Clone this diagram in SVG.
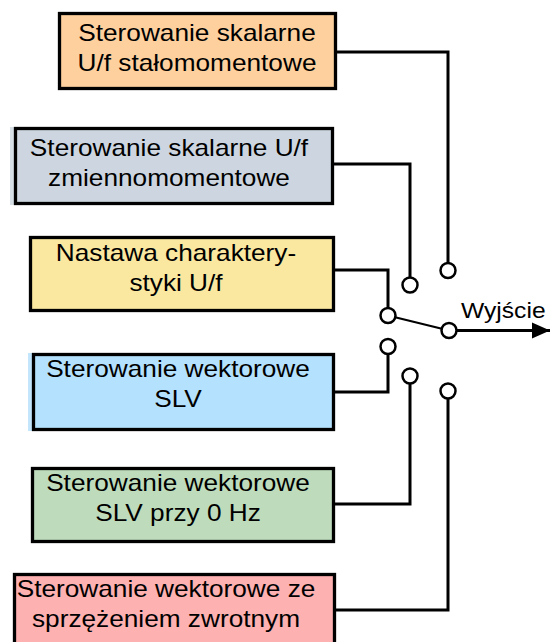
<svg xmlns="http://www.w3.org/2000/svg" width="550" height="642" viewBox="0 0 550 642">
<style>
.box{stroke:#000;stroke-width:3.3}
.t{font-family:"Liberation Sans",Arial,sans-serif;font-size:23px;fill:#000;text-anchor:middle}
.w{font-family:"Liberation Sans",Arial,sans-serif;font-size:22px;fill:#000}
.con{fill:none;stroke:#000;stroke-width:3}
.c{fill:#fff;stroke:#000;stroke-width:2.5}
</style>
<defs>
<marker id="arr" markerUnits="userSpaceOnUse" markerWidth="20" markerHeight="18" refX="18" refY="9" orient="auto">
<path d="M0,1 L18,9 L0,17 Z" fill="#000"/>
</marker>
</defs>
<rect width="550" height="642" fill="#fff"/>
<g id="n1">
<rect class="box" x="59.5" y="13.5" width="276" height="75" fill="#FDD09E"/>
<text class="t" transform="translate(197,0) scale(1.14,1)" x="0" y="41.5">Sterowanie skalarne</text>
<text class="t" transform="translate(197,0) scale(1.14,1)" x="0" y="71.5">U/f stałomomentowe</text>
</g>
<g id="n2">
<rect x="10" y="127" width="10" height="78" fill="#D6DEE6"/>
<rect class="box" x="15.5" y="128.5" width="317" height="75" fill="#CDD6E0"/>
<text class="t" transform="translate(169,0) scale(1.14,1)" x="0" y="156">Sterowanie skalarne U/f</text>
<text class="t" transform="translate(169,0) scale(1.14,1)" x="0" y="186">zmiennomomentowe</text>
</g>
<g id="n3">
<rect class="box" x="30.5" y="237.5" width="303" height="73" fill="#FAE8A0"/>
<text class="t" transform="translate(176,0) scale(1.14,1)" x="0" y="261.5">Nastawa charaktery-</text>
<text class="t" transform="translate(176,0) scale(1.14,1)" x="0" y="291.5">styki U/f</text>
</g>
<g id="n4">
<rect x="28" y="353" width="10" height="78" fill="#C4E6FD"/>
<rect class="box" x="33.5" y="354.5" width="300" height="75" fill="#B4E1FD"/>
<text class="t" transform="translate(178,0) scale(1.14,1)" x="0" y="377">Sterowanie wektorowe</text>
<text class="t" transform="translate(178,0) scale(1.14,1)" x="0" y="407">SLV</text>
</g>
<g id="n5">
<rect class="box" x="32.5" y="468.5" width="301" height="73" fill="#BEDCBC"/>
<text class="t" transform="translate(178,0) scale(1.14,1)" x="0" y="491.5">Sterowanie wektorowe</text>
<text class="t" transform="translate(178,0) scale(1.14,1)" x="0" y="521.5">SLV przy 0 Hz</text>
</g>
<g id="n6">
<rect class="box" x="14.5" y="574.5" width="320" height="80" fill="#FDB1B0"/>
<text class="t" transform="translate(166,0) scale(1.14,1)" x="0" y="597">Sterowanie wektorowe ze</text>
<text class="t" transform="translate(166,0) scale(1.14,1)" x="0" y="627">sprzężeniem zwrotnym</text>
</g>
<g id="connectors">
<path class="con" d="M336,52 H448 V263"/>
<path class="con" d="M333,164 H410 V277.5"/>
<path class="con" d="M334,270 H388 V308"/>
<path class="con" d="M334,392 H388 V354"/>
<path class="con" d="M334,504 H410 V383.5"/>
<path class="con" d="M335,610 H448 V398.5"/>
<line x1="388" y1="315.5" x2="449" y2="330.5" stroke="#000" stroke-width="2.3"/>
<line x1="456" y1="330.5" x2="550" y2="330.5" stroke="#000" stroke-width="3" marker-end="url(#arr)"/>
</g>
<g id="switch">
<circle class="c" cx="448" cy="270.5" r="7.5"/>
<circle class="c" cx="410" cy="285" r="7.5"/>
<circle class="c" cx="388" cy="315.5" r="7.5"/>
<circle class="c" cx="449" cy="330.5" r="7.5"/>
<circle class="c" cx="388" cy="346.5" r="7.5"/>
<circle class="c" cx="410" cy="376" r="7.5"/>
<circle class="c" cx="448" cy="391" r="7.5"/>
</g>
<g id="output">
<text class="w" transform="translate(461,0) scale(1.12,1)" x="0" y="318">Wyjście</text>
</g>
</svg>
